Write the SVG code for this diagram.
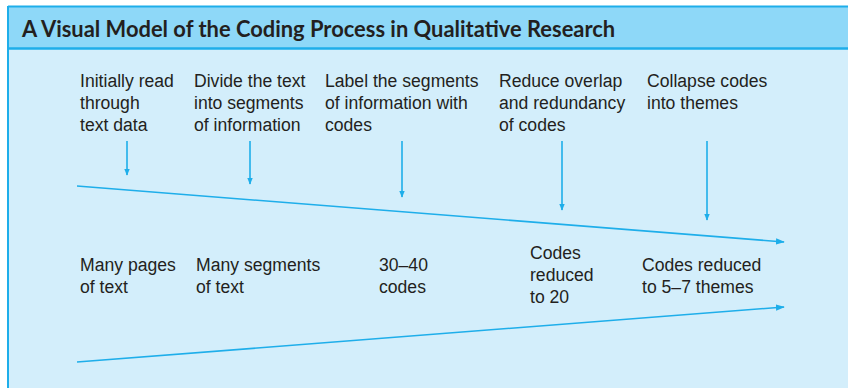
<svg xmlns="http://www.w3.org/2000/svg" width="848" height="388" viewBox="0 0 848 388">
<defs>
<style>
.t{font-family:"Liberation Sans",Arial,sans-serif;font-size:17.6px;fill:#231f20}
.title{font-family:Lato,"Liberation Sans",sans-serif;font-weight:bold;font-size:21.9px;fill:#231f20}
.ln{stroke:#1eaeea;stroke-width:1.6;fill:none}
</style>
<marker id="ah" viewBox="0 0 10 10" refX="9" refY="5" markerWidth="7" markerHeight="7" markerUnits="userSpaceOnUse" orient="auto">
<path d="M0,1 L10,5 L0,9 Z" fill="#1eaeea"/>
</marker>
<marker id="ah2" viewBox="0 0 10 10" refX="9" refY="5" markerWidth="9" markerHeight="9" markerUnits="userSpaceOnUse" orient="auto">
<path d="M0,1.5 L10,5 L0,8.5 Z" fill="#1eaeea"/>
</marker>
</defs>
<rect x="0" y="0" width="848" height="388" fill="#ffffff"/>
<rect x="8" y="48" width="840" height="340" fill="#d3eefb"/>
<rect x="8" y="6" width="840" height="42" fill="#8ed8f8"/>
<line x1="8" y1="6.5" x2="848" y2="6.5" stroke="#1eaeea" stroke-width="2"/>
<line x1="8" y1="48.5" x2="848" y2="48.5" stroke="#1eaeea" stroke-width="2.5"/>
<line x1="8" y1="6" x2="8" y2="388" stroke="#1eaeea" stroke-width="2"/>
<g id="title"><text class="title" x="22" y="37">A Visual Model of the Coding Process in Qualitative Research</text></g>
<g id="step1"><text class="t" x="80" y="87">Initially read</text><text class="t" x="80" y="109">through</text><text class="t" x="80" y="131">text data</text></g>
<g id="step2"><text class="t" x="194" y="87">Divide the text</text><text class="t" x="194" y="109">into segments</text><text class="t" x="194" y="131">of information</text></g>
<g id="step3"><text class="t" x="325" y="87">Label the segments</text><text class="t" x="325" y="109">of information with</text><text class="t" x="325" y="131">codes</text></g>
<g id="step4"><text class="t" x="499" y="87">Reduce overlap</text><text class="t" x="499" y="109">and redundancy</text><text class="t" x="499" y="131">of codes</text></g>
<g id="step5"><text class="t" x="647" y="87">Collapse codes</text><text class="t" x="647" y="109">into themes</text></g>
<g id="result1"><text class="t" x="80" y="271">Many pages</text><text class="t" x="80" y="293">of text</text></g>
<g id="result2"><text class="t" x="196" y="271">Many segments</text><text class="t" x="196" y="293">of text</text></g>
<g id="result3"><text class="t" x="379" y="271">30–40</text><text class="t" x="379" y="293">codes</text></g>
<g id="result4"><text class="t" x="530" y="259">Codes</text><text class="t" x="530" y="281">reduced</text><text class="t" x="530" y="303">to 20</text></g>
<g id="result5"><text class="t" x="642" y="271">Codes reduced</text><text class="t" x="642" y="293">to 5–7 themes</text></g>
<g id="connectors">
<line class="ln" x1="127" y1="141" x2="127" y2="175" marker-end="url(#ah)"/>
<line class="ln" x1="250" y1="141" x2="250" y2="184" marker-end="url(#ah)"/>
<line class="ln" x1="402" y1="141" x2="402" y2="197" marker-end="url(#ah)"/>
<line class="ln" x1="562" y1="141" x2="562" y2="210" marker-end="url(#ah)"/>
<line class="ln" x1="707" y1="141" x2="707" y2="220" marker-end="url(#ah)"/>
<line class="ln" x1="77" y1="186" x2="784" y2="242" marker-end="url(#ah2)"/>
<line class="ln" x1="77" y1="362" x2="784" y2="307" marker-end="url(#ah2)"/>
</g>
</svg>
